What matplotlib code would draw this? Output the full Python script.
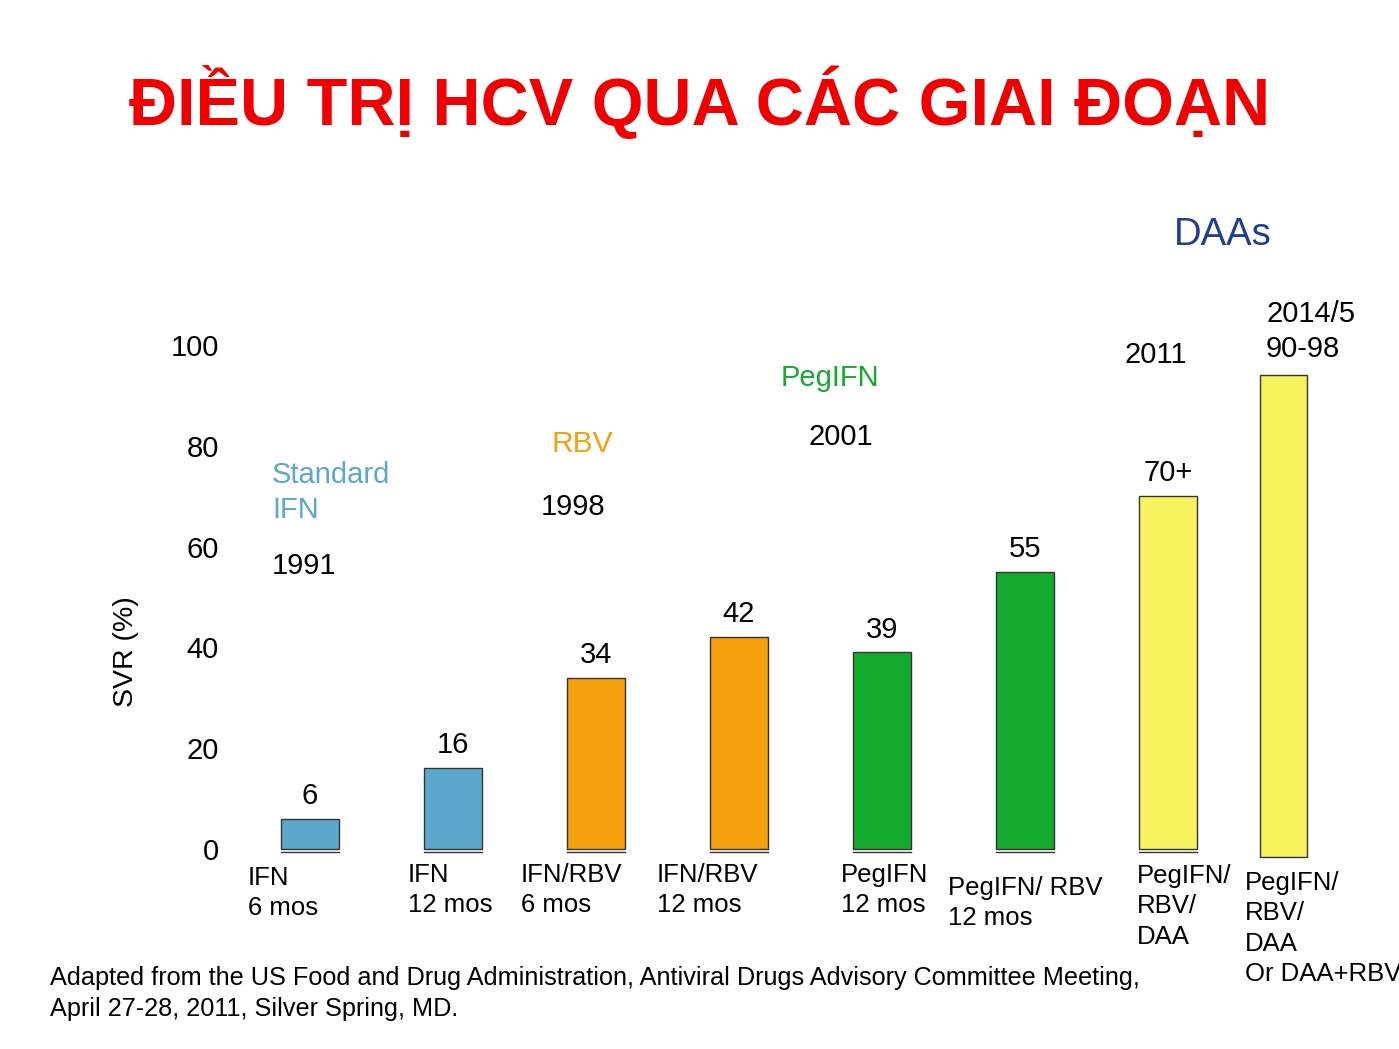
import numpy as np
import matplotlib.pyplot as plt

plt.rcParams['font.family'] = ['Liberation Sans', 'DejaVu Sans']

# data
categories = ['IFN\n6 mos', 'IFN\n12 mos', 'IFN/RBV\n6 mos', 'IFN/RBV\n12 mos',
              'PegIFN\n12 mos', 'PegIFN/ RBV\n12 mos', 'PegIFN/\nRBV/\nDAA',
              'PegIFN/\nRBV/\nDAA\nOr DAA+RBV']
svr = [6, 16, 34, 42, 39, 55, 70, 94]
value_labels = ['6', '16', '34', '42', '39', '55', '70+', '']
eras = ['Standard\nIFN', 'RBV', 'PegIFN', 'DAAs']
years = ['1991', '1998', '2001', '2011', '2014/5\n90-98']
yticks = [0, 20, 40, 60, 80, 100]

blue = '#5BA8CC'
orange = '#F4A00C'
green = '#14AA2D'
yellow = '#F7F35E'
bar_colors = [blue, blue, orange, orange, green, green, yellow, yellow]

W, H = 1399, 1049
fig = plt.figure(figsize=(W / 100, H / 100), dpi=100)
fig.patch.set_facecolor('white')


def fx(px):
    return px / W


def fy(py):
    return 1 - py / H


# axes: y=0 at pixel 849, y=100 at pixel 345
ax_left, ax_right = 230, 1399
ax = fig.add_axes([fx(ax_left), fy(849), fx(ax_right - ax_left), (849 - 345) / H])
step = 143.0
ax.set_xlim((ax_left - 310) / step, (ax_right - 310) / step)
ax.set_ylim(0, 100)
for s in ax.spines.values():
    s.set_visible(False)
ax.set_xticks([])
ax.set_yticks(yticks)
ax.set_yticklabels([str(t) for t in yticks], fontsize=21)
ax.tick_params(axis='y', length=0, pad=8)
ax.patch.set_alpha(0)

x = np.arange(len(svr), dtype=float)
x[-1] -= 0.19
widths = [0.406] * 7 + [0.33]
bottoms = [0] * 7 + [-1.6]
heights = [v - b for v, b in zip(svr, bottoms)]
ax.bar(x, heights, width=widths, bottom=bottoms, color=bar_colors,
       edgecolor='#333333', linewidth=1.0, clip_on=False, zorder=3)

# short baseline segments under the bars
for xi, w in zip(x[:-1], widths[:-1]):
    ax.plot([xi - w / 2, xi + w / 2], [-0.5, -0.5], color='#333333', lw=1.0,
            clip_on=False, zorder=2)

for xi, v, lab in zip(x, svr, value_labels):
    if lab:
        ax.annotate(lab, (xi, v), xytext=(0, 16.5), textcoords='offset points',
                    ha='center', va='center', fontsize=21)

fig.text(fx(126), fy(652), 'SVR (%)', fontsize=20.5, rotation=90,
         ha='center', va='center')

# category labels (cap-top pixel positions of the slide)
cat_pos = [(248, 866), (408, 863), (521, 863), (657, 863), (841, 863),
           (948, 876), (1137, 864), (1245, 871)]
for (px, py), lab in zip(cat_pos, categories):
    fig.text(fx(px), fy(py), lab, ha='left', va='top', fontsize=18.5,
             linespacing=1.34)

# era annotations
fig.text(fx(272), fy(461), eras[0], color=blue, fontsize=21, va='top',
         linespacing=1.33)
fig.text(fx(552), fy(444), eras[1], color=orange, fontsize=21.5, va='center')
fig.text(fx(781), fy(378), eras[2], color=green, fontsize=21, va='center')
fig.text(fx(1174), fy(235), eras[3], color='#1F3C96', fontsize=27.5, va='center')

year_pos = [(272, 566), (541, 507), (809, 437), (1124, 355)]
for (px, py), yr in zip(year_pos, years[:4]):
    fig.text(fx(px), fy(py), yr, fontsize=21, va='center')
fig.text(fx(1266), fy(300), years[4], fontsize=21, va='top', linespacing=1.33)

# title
fig.text(0.5, fy(102), 'ĐIỀU TRỊ HCV QUA CÁC GIAI ĐOẠN', color='#F00000',
         fontsize=48, fontweight='bold', ha='center', va='center')

# source note
fig.text(fx(50), fy(966),
         'Adapted from the US Food and Drug Administration, Antiviral Drugs Advisory Committee Meeting,\n'
         'April 27-28, 2011, Silver Spring, MD.',
         fontsize=18.2, va='top', linespacing=1.36)

fig.savefig('out.png', dpi=100)
